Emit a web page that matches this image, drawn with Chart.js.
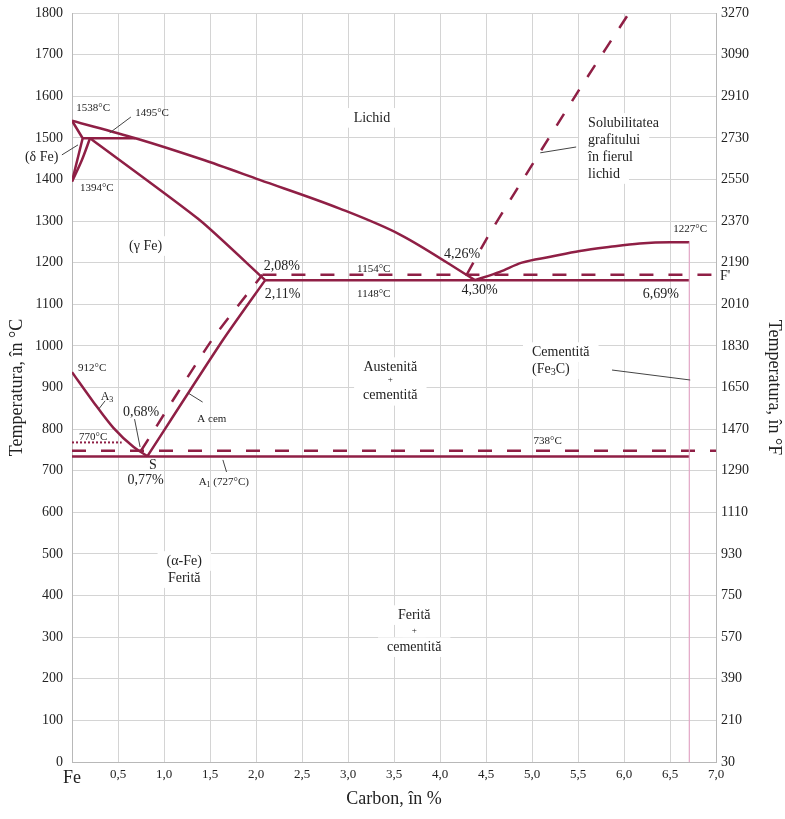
<!DOCTYPE html>
<html>
<head>
<meta charset="utf-8">
<script src="https://cdn.jsdelivr.net/npm/chart.js@4"></script>
<style>
  body { margin: 0; background: #fff; }
</style>
</head>
<body>
<canvas id="fe-c" width="785" height="819"></canvas>
<script>
// tick labels
const xTicks = ["Fe", "0,5", "1,0", "1,5", "2,0", "2,5", "3,0", "3,5", "4,0", "4,5", "5,0", "5,5", "6,0", "6,5", "7,0"];
const fTicks = [30, 210, 390, 570, 750, 930, 1110, 1290, 1470, 1650, 1830, 2010, 2190, 2370, 2550, 2730, 2910, 3090, 3270];

// lines of the diagram, [carbon %, temperature °C] as drawn
const liquidus = [[0, 1541], [0.69, 1499], [1.4, 1449], [2.04, 1399], [2.91, 1330], [3.57, 1267], [4.38, 1158]];
const deltaSolidus = [[0, 1541], [0.116, 1499], [0, 1395]];
const deltaGamma = [[0, 1395], [0.11, 1448], [0.196, 1499]];
const peritectic = [[0.116, 1499], [0.69, 1499]];
const austSolidus = [[0.196, 1499], [1.39, 1302], [2.1, 1158]];
const eutectic = [[2.1, 1158], [6.71, 1158]];
const eutecticGraphite = [[2.07, 1171], [7, 1171]];
const acm = [[0.82, 735], [1.64, 1014], [2.1, 1158]];
const acmGraphite = [[0.75, 748], [1.52, 1014], [2.07, 1171]];
const a3 = [[0, 937], [0.23, 866], [0.45, 803], [0.67, 757], [0.82, 735]];
const eutectoid = [[0, 734], [6.71, 734]];
const eutectoidGraphite = [[0, 748], [7, 748]];
const curie = [[0, 768], [0.54, 768]];
const cementLiquidus = [[4.38, 1158], [4.65, 1178], [4.89, 1200], [5.2, 1214], [5.52, 1228], [5.85, 1238], [6.17, 1246], [6.5, 1249], [6.71, 1249]];
const graphiteSol = [[4.29, 1171], [4.55, 1274], [5.5, 1611], [6.1, 1815]];
const cementite = [[6.71, 0], [6.71, 1249]];

const red = "#8f1f45";
const serif = "'Liberation Serif', 'Times New Roman', serif";

// text on the diagram: [text, carbon, temp, size, align, box]
const notes = [
  ["1538°C", 0.23, 1572, 11],
  ["1495°C", 0.87, 1560, 11],
  ["(δ Fe)", -0.33, 1454, 14],
  ["1394°C", 0.27, 1379, 11],
  ["Lichid", 3.26, 1548, 14, "center", true],
  ["(γ Fe)", 0.80, 1240, 14, "center", true],
  ["2,08%", 2.28, 1190, 14],
  ["2,11%", 2.29, 1125, 14],
  ["1154°C", 3.28, 1185, 11],
  ["1148°C", 3.28, 1125, 11],
  ["4,26%", 4.24, 1221, 14],
  ["4,30%", 4.43, 1134, 14],
  ["6,69%", 6.40, 1125, 14],
  ["1227°C", 6.72, 1281, 11],
  ["F'", 7.10, 1166, 14],
  ["Solubilitatea", 5.61, 1536, 14, "left", true],
  ["grafitului", 5.61, 1495, 14, "left", true],
  ["în fierul", 5.61, 1454, 14, "left", true],
  ["lichid", 5.61, 1413, 14, "left", true],
  ["Austenită", 3.46, 949, 14, "center", true],
  ["+", 3.46, 918, 9, "center", true],
  ["cementită", 3.46, 880, 14, "center", true],
  ["Cementită", 5.0, 985, 14, "left", true],
  ["(Fe_3C)", 5.0, 944, 14, "left", true],
  ["912°C", 0.22, 947, 11],
  ["A_3", 0.38, 877, 12],
  ["0,68%", 0.75, 841, 14],
  ["770°C", 0.23, 781, 11],
  ["A cem", 1.52, 824, 11],
  ["S", 0.88, 714, 14],
  ["0,77%", 0.80, 678, 14],
  ["A_1 (727°C)", 1.65, 673, 11],
  ["738°C", 5.17, 771, 11],
  ["(α-Fe)", 1.22, 483, 14, "center", true],
  ["Ferită", 1.22, 442, 14, "center", true],
  ["Ferită", 3.72, 353, 14, "center", true],
  ["+", 3.72, 315, 9, "center", true],
  ["cementită", 3.72, 276, 14, "center", true],
];

// leader lines from labels to the curves
const leaders = [
  [[0.41, 1512], [0.64, 1550]],
  [[-0.11, 1459], [0.065, 1483]],
  [[0.29, 848], [0.36, 868]],
  [[0.68, 824], [0.74, 757]],
  [[1.42, 865], [1.26, 887]],
  [[1.68, 697], [1.64, 726]],
  [[5.09, 1464], [5.48, 1478]],
  [[5.87, 942], [6.72, 918]],
];

function toXY(arr) {
  return arr.map(p => ({ x: p[0], y: p[1] }));
}

function line(data, opts) {
  return Object.assign({
    data: toXY(data),
    showLine: true,
    borderColor: red,
    borderWidth: 2.5,
    pointRadius: 0,
    fill: false,
    tension: 0,
  }, opts || {});
}

const dashed = { borderDash: [14, 15] };
const curved = { cubicInterpolationMode: "monotone" };

// splits "A_3" into normal and subscript parts
function segments(text) {
  const parts = text.split(/_(\d)/);
  return parts.map((t, i) => [t, i % 2 === 1]).filter(s => s[0] !== "");
}

// fixed side widths, no extra label padding above the plot
function fixWidth(w) {
  return s => {
    s.width = w;
    s.paddingTop = 0;
    s.paddingBottom = 0;
  };
}

const notesPlugin = {
  id: "notes",
  afterDatasetsDraw(chart) {
    const { ctx, scales } = chart;
    const x = scales.x, y = scales.y;
    ctx.save();

    ctx.strokeStyle = "#444";
    ctx.lineWidth = 1;
    leaders.forEach(l => {
      ctx.beginPath();
      ctx.moveTo(x.getPixelForValue(l[0][0]), y.getPixelForValue(l[0][1]));
      ctx.lineTo(x.getPixelForValue(l[1][0]), y.getPixelForValue(l[1][1]));
      ctx.stroke();
    });

    ctx.textBaseline = "middle";
    notes.forEach(n => {
      const [text, cx, ct, size, align = "center", box = false] = n;
      const segs = segments(text);
      const fontMain = size + "px " + serif;
      const fontSub = Math.round(size * 0.7) + "px " + serif;
      let w = 0;
      segs.forEach(s => {
        ctx.font = s[1] ? fontSub : fontMain;
        w += ctx.measureText(s[0]).width;
      });
      const px = x.getPixelForValue(cx);
      const py = y.getPixelForValue(ct);
      let left = align === "left" ? px : px - w / 2;
      if (box) {
        ctx.fillStyle = "#fff";
        ctx.fillRect(left - 9, py - size * 0.7, w + 18, size * 1.4);
      }
      ctx.fillStyle = "#222";
      ctx.textAlign = "left";
      segs.forEach(s => {
        ctx.font = s[1] ? fontSub : fontMain;
        ctx.fillText(s[0], left, s[1] ? py + size * 0.25 : py);
        left += ctx.measureText(s[0]).width;
      });
    });
    ctx.restore();
  }
};

new Chart(document.getElementById("fe-c"), {
  type: "scatter",
  data: {
    datasets: [
      line(cementite, { borderColor: "#e2a6c6", borderWidth: 1.2 }),
      line(liquidus, curved),
      line(deltaSolidus),
      line(deltaGamma, curved),
      line(peritectic),
      line(austSolidus, { tension: 0.2 }),
      line(eutectic),
      line(eutecticGraphite, dashed),
      line(acm, { tension: 0.2 }),
      line(acmGraphite, Object.assign({ tension: 0.2 }, dashed)),
      line(a3, curved),
      line(eutectoid),
      line(eutectoidGraphite, dashed),
      line(curie, { borderDash: [2, 2], borderWidth: 2 }),
      line(cementLiquidus, curved),
      line(graphiteSol, Object.assign({ clip: false, tension: 0.2 }, dashed)),
    ]
  },
  options: {
    responsive: false,
    animation: false,
    layout: { padding: { top: 13, left: 0, right: 0, bottom: 0 } },
    plugins: {
      legend: { display: false },
      tooltip: { enabled: false },
    },
    scales: {
      x: {
        type: "linear",
        min: 0,
        max: 7,
        afterFit: s => { s.height = 57; },
        ticks: {
          stepSize: 0.5,
          padding: 5,
          color: "#222",
          autoSkip: false,
          maxRotation: 0,
          font: c => c.index === 0 ? { family: serif, size: 18 } : { family: serif, size: 13 },
          callback: (v, i) => xTicks[i],
        },
        grid: { color: "#d4d4d4", drawTicks: false },
        border: { color: "#b8b8b8" },
        title: {
          display: true,
          text: "Carbon, în %",
          color: "#222",
          font: { family: serif, size: 18 },
          padding: { top: 0, bottom: 9 },
        },
      },
      y: {
        min: 0,
        max: 1800,
        afterFit: fixWidth(72),
        ticks: {
          stepSize: 100,
          padding: 9,
          color: "#222",
          font: { family: serif, size: 14 },
          callback: v => String(v),
        },
        grid: { color: "#d4d4d4", drawTicks: false },
        border: { color: "#b8b8b8" },
        title: {
          display: true,
          text: "Temperatura, în °C",
          color: "#222",
          font: { family: serif, size: 18 },
          padding: { top: 6, bottom: 0 },
        },
      },
      y2: {
        position: "right",
        min: 0,
        max: 1800,
        afterFit: fixWidth(69),
        ticks: {
          stepSize: 100,
          padding: 5,
          color: "#222",
          font: { family: serif, size: 14 },
          callback: (v, i) => String(fTicks[i]),
        },
        grid: { display: false, drawTicks: false },
        border: { color: "#b8b8b8" },
        title: {
          display: true,
          text: "Temperatura, în °F",
          color: "#222",
          font: { family: serif, size: 18 },
          padding: { top: 0, bottom: 0 },
        },
      },
    }
  },
  plugins: [notesPlugin]
});
</script>
</body>
</html>
